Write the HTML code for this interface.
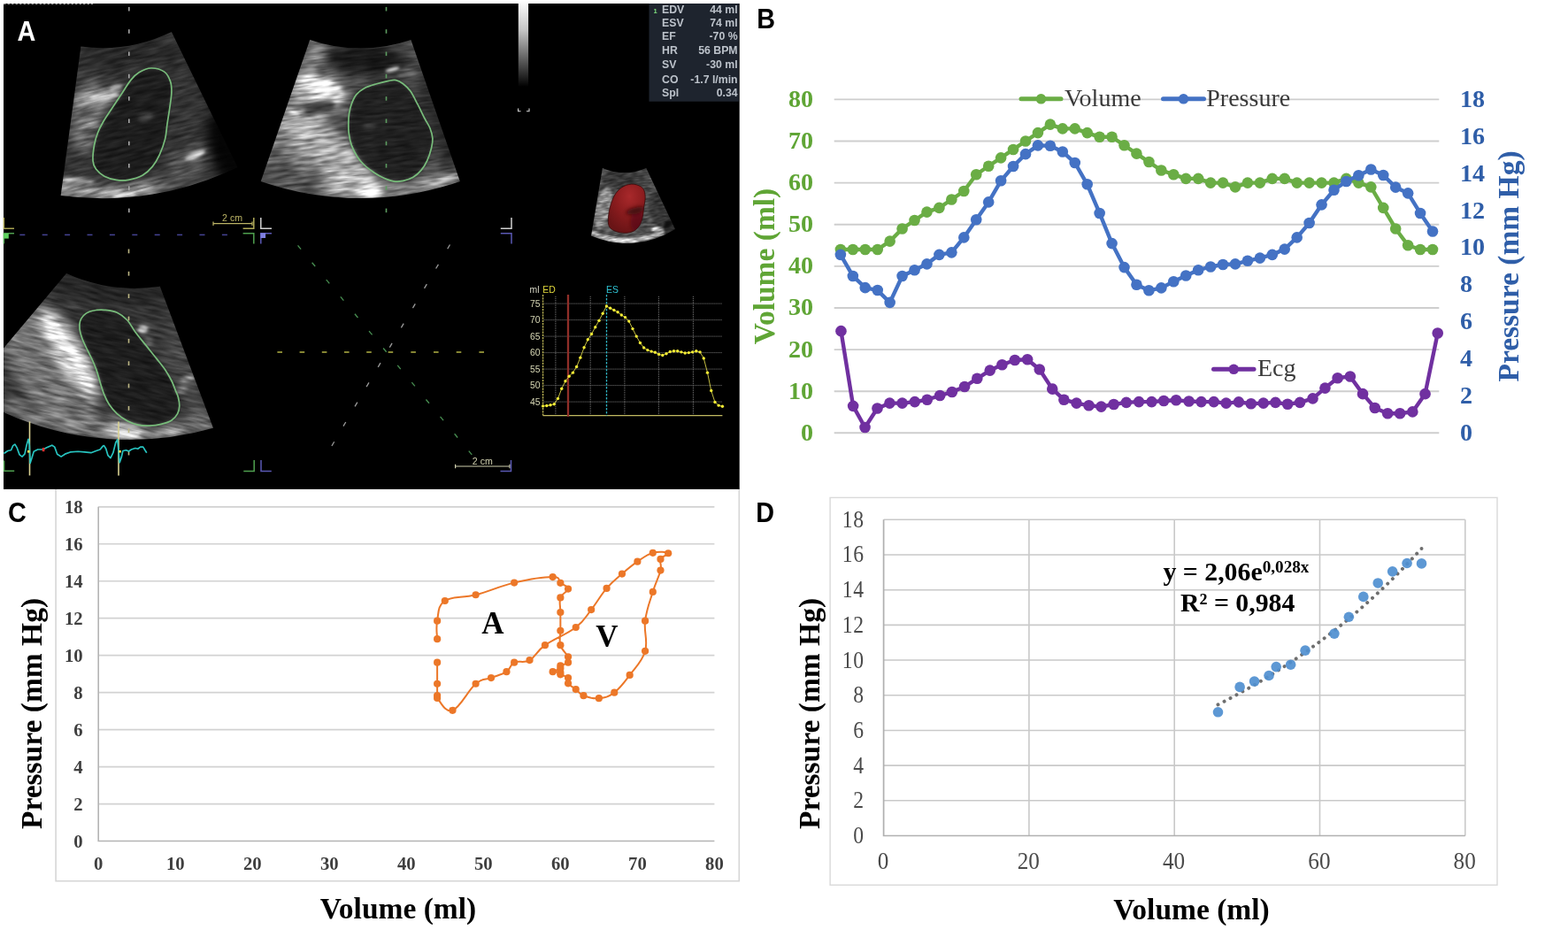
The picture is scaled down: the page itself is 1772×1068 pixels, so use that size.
<!DOCTYPE html>
<html lang="en">
<head>
<meta charset="utf-8">
<title>Figure: pressure-volume analysis</title>
<style>
html,body{margin:0;padding:0;background:#fff;}
body{width:1772px;height:1068px;overflow:hidden;position:relative;}
svg{position:absolute;left:0;top:0;display:block;}
text{font-family:"Liberation Serif","DejaVu Serif",serif;}
.pl{font-family:"Liberation Sans","DejaVu Sans",sans-serif;font-weight:bold;font-size:28.8px;}
.bt{font-weight:bold;font-size:28.1px;}
.at{font-weight:bold;font-size:33.5px;}
.atk{font-weight:bold;font-size:33.5px;fill:#000;}
.lg{font-size:28px;fill:#3a3a3a;}
.ct{font-weight:bold;font-size:20.7px;fill:#3f3f3f;}
.dt{fill:#4a4a4a;}
.av{font-weight:bold;font-size:35px;fill:#000;}
.eq{font-weight:bold;font-size:29.8px;fill:#000;}
.us{font-family:"Liberation Sans","DejaVu Sans",sans-serif;}
</style>
</head>
<body>
<svg width="1772" height="1068" viewBox="0 0 1772 1068">
<rect width="1772" height="1068" fill="#fff"/>
<g id="panelC">
<rect x="63.1" y="552" width="772.2" height="443.7" fill="#fff" stroke="#d6d6d6" stroke-width="1.6"/>
<line x1="111.2" x2="807.4" y1="908.53" y2="908.53" stroke="#d2d2d2" stroke-width="1.7"/>
<line x1="111.2" x2="807.4" y1="866.57" y2="866.57" stroke="#d2d2d2" stroke-width="1.7"/>
<line x1="111.2" x2="807.4" y1="824.6" y2="824.6" stroke="#d2d2d2" stroke-width="1.7"/>
<line x1="111.2" x2="807.4" y1="782.63" y2="782.63" stroke="#d2d2d2" stroke-width="1.7"/>
<line x1="111.2" x2="807.4" y1="740.67" y2="740.67" stroke="#d2d2d2" stroke-width="1.7"/>
<line x1="111.2" x2="807.4" y1="698.7" y2="698.7" stroke="#d2d2d2" stroke-width="1.7"/>
<line x1="111.2" x2="807.4" y1="656.73" y2="656.73" stroke="#d2d2d2" stroke-width="1.7"/>
<line x1="111.2" x2="807.4" y1="614.77" y2="614.77" stroke="#d2d2d2" stroke-width="1.7"/>
<line x1="111.2" x2="807.4" y1="572.8" y2="572.8" stroke="#d2d2d2" stroke-width="1.7"/>
<path d="M111.2,572.8 V950.5 H807.4" fill="none" stroke="#b4b4b4" stroke-width="1.6"/>
<text x="93.7" y="957.8" text-anchor="end" class="ct">0</text>
<text x="93.7" y="915.83" text-anchor="end" class="ct">2</text>
<text x="93.7" y="873.87" text-anchor="end" class="ct">4</text>
<text x="93.7" y="831.9" text-anchor="end" class="ct">6</text>
<text x="93.7" y="789.93" text-anchor="end" class="ct">8</text>
<text x="93.7" y="747.97" text-anchor="end" class="ct">10</text>
<text x="93.7" y="706" text-anchor="end" class="ct">12</text>
<text x="93.7" y="664.03" text-anchor="end" class="ct">14</text>
<text x="93.7" y="622.07" text-anchor="end" class="ct">16</text>
<text x="93.7" y="580.1" text-anchor="end" class="ct">18</text>
<text x="111.2" y="982.6" text-anchor="middle" class="ct">0</text>
<text x="198.22" y="982.6" text-anchor="middle" class="ct">10</text>
<text x="285.25" y="982.6" text-anchor="middle" class="ct">20</text>
<text x="372.27" y="982.6" text-anchor="middle" class="ct">30</text>
<text x="459.3" y="982.6" text-anchor="middle" class="ct">40</text>
<text x="546.32" y="982.6" text-anchor="middle" class="ct">50</text>
<text x="633.35" y="982.6" text-anchor="middle" class="ct">60</text>
<text x="720.38" y="982.6" text-anchor="middle" class="ct">70</text>
<text x="807.4" y="982.6" text-anchor="middle" class="ct">80</text>
<text transform="translate(47,806.5) rotate(-90)" text-anchor="middle" class="atk">Pressure (mm Hg)</text>
<text x="450" y="1037.5" text-anchor="middle" class="atk">Volume (ml)</text>
<path d="M494.11,748.64C494.11,753.47 494.11,765.3 494.11,772.77C494.11,780.24 494.11,782.76 494.11,785.99C494.11,789.22 490.63,785.57 494.11,788.93C497.59,792.29 502.81,806.01 511.51,802.78C520.22,799.55 528.92,780.12 537.62,772.77C546.32,765.43 548.07,768.78 555.03,766.06C561.99,763.33 567.21,762.62 572.43,759.13C577.65,755.65 575.91,751.24 581.13,748.64C586.36,746.04 591.58,750.03 598.54,746.12C605.5,742.22 605.5,736.55 615.95,729.13C626.39,721.7 640.31,717 650.75,708.98C661.2,700.97 661.2,697.86 668.16,689.05C675.12,680.23 678.6,673.02 685.57,664.92C692.53,656.82 696.01,654.59 702.97,648.55C709.93,642.51 713.41,639.44 720.38,634.7C727.34,629.96 730.82,626.73 737.78,624.84C744.74,622.95 753.44,623.83 755.18,625.26C756.93,626.69 748.22,628.11 746.48,631.97C744.74,635.83 748.22,637.18 746.48,644.56C744.74,651.95 741.26,657.49 737.78,668.9C734.3,680.32 730.82,688.25 729.08,701.64C727.34,715.03 732.56,723.59 729.08,735.84C725.6,748.09 718.63,753.55 711.67,762.91C704.71,772.27 701.23,777.39 694.27,782.63C687.31,787.88 683.82,788.42 676.86,789.14C669.9,789.85 664.68,788.21 659.46,786.2C654.24,784.19 654.24,781.84 650.75,779.07C647.27,776.3 643.79,774.95 642.05,772.35C640.31,769.75 643.79,768.07 642.05,766.06C640.31,764.04 635.09,763.54 633.35,762.28C631.61,761.02 635.09,760.39 633.35,759.76C631.61,759.13 624.65,759.97 624.65,759.13C624.65,758.29 631.61,756.91 633.35,755.56C635.09,754.22 631.61,753.8 633.35,752.42C635.09,751.03 640.31,750.65 642.05,748.64C643.79,746.63 643.79,746.25 642.05,742.35C640.31,738.44 635.09,735.04 633.35,729.13C631.61,723.21 633.35,720.19 633.35,712.76C633.35,705.33 633.35,699.46 633.35,691.99C633.35,684.52 631.61,680.7 633.35,675.41C635.09,670.12 642.05,668.86 642.05,665.55C642.05,662.23 636.83,661.52 633.35,658.83C629.87,656.15 635.09,652.16 624.65,652.12C614.2,652.08 598.54,654.59 581.13,658.62C563.73,662.65 553.29,668.19 537.62,672.26C521.96,676.33 511.51,673.1 502.81,678.98C494.11,684.85 495.85,692.99 494.11,701.64C492.37,710.28 494.11,718.09 494.11,722.2" fill="none" stroke="#ec7728" stroke-width="2" stroke-linejoin="round" stroke-linecap="round"/>
<g fill="#ec7728"><circle cx="494.11" cy="748.64" r="4.1"/><circle cx="494.11" cy="772.77" r="4.1"/><circle cx="494.11" cy="785.99" r="4.1"/><circle cx="494.11" cy="788.93" r="4.1"/><circle cx="511.51" cy="802.78" r="4.1"/><circle cx="537.62" cy="772.77" r="4.1"/><circle cx="555.03" cy="766.06" r="4.1"/><circle cx="572.43" cy="759.13" r="4.1"/><circle cx="581.13" cy="748.64" r="4.1"/><circle cx="598.54" cy="746.12" r="4.1"/><circle cx="615.95" cy="729.13" r="4.1"/><circle cx="650.75" cy="708.98" r="4.1"/><circle cx="668.16" cy="689.05" r="4.1"/><circle cx="685.57" cy="664.92" r="4.1"/><circle cx="702.97" cy="648.55" r="4.1"/><circle cx="720.38" cy="634.7" r="4.1"/><circle cx="737.78" cy="624.84" r="4.1"/><circle cx="755.18" cy="625.26" r="4.1"/><circle cx="746.48" cy="631.97" r="4.1"/><circle cx="746.48" cy="644.56" r="4.1"/><circle cx="737.78" cy="668.9" r="4.1"/><circle cx="729.08" cy="701.64" r="4.1"/><circle cx="729.08" cy="735.84" r="4.1"/><circle cx="711.67" cy="762.91" r="4.1"/><circle cx="694.27" cy="782.63" r="4.1"/><circle cx="676.86" cy="789.14" r="4.1"/><circle cx="659.46" cy="786.2" r="4.1"/><circle cx="650.75" cy="779.07" r="4.1"/><circle cx="642.05" cy="772.35" r="4.1"/><circle cx="642.05" cy="766.06" r="4.1"/><circle cx="633.35" cy="762.28" r="4.1"/><circle cx="633.35" cy="759.76" r="4.1"/><circle cx="624.65" cy="759.13" r="4.1"/><circle cx="633.35" cy="755.56" r="4.1"/><circle cx="633.35" cy="752.42" r="4.1"/><circle cx="642.05" cy="748.64" r="4.1"/><circle cx="642.05" cy="742.35" r="4.1"/><circle cx="633.35" cy="729.13" r="4.1"/><circle cx="633.35" cy="712.76" r="4.1"/><circle cx="633.35" cy="691.99" r="4.1"/><circle cx="633.35" cy="675.41" r="4.1"/><circle cx="642.05" cy="665.55" r="4.1"/><circle cx="633.35" cy="658.83" r="4.1"/><circle cx="624.65" cy="652.12" r="4.1"/><circle cx="581.13" cy="658.62" r="4.1"/><circle cx="537.62" cy="672.26" r="4.1"/><circle cx="502.81" cy="678.98" r="4.1"/><circle cx="494.11" cy="701.64" r="4.1"/><circle cx="494.11" cy="722.2" r="4.1"/></g>
<text x="557" y="716" text-anchor="middle" class="av">A</text>
<text x="686" y="731" text-anchor="middle" class="av">V</text>
</g>
<g id="panelA">
<defs>
<clipPath id="cs1"><path d="M91.42,52.59 A179,179 0 0 0 193.87,36.08 L268.39,188.88 A349,349 0 0 1 68.64,221.05 Z"/></clipPath>
<clipPath id="cs2"><path d="M350.2,44.89 A174.5,174.5 0 0 0 464.4,44.89 L519.86,205.06 A344,344 0 0 1 294.74,205.06 Z"/></clipPath>
<clipPath id="cs3"><path d="M75,309.1 A190,190 0 0 0 180.8,323.8 L241,483.8 A345,345 0 0 1 4,466 L4,393.5 Z"/></clipPath>
<clipPath id="cs4"><path d="M680.9,190 A62,62 0 0 0 730.3,190 L763,259 A102,102 0 0 1 668,266.6 Z"/></clipPath>
<filter id="spk1" x="-5%" y="-5%" width="110%" height="110%" color-interpolation-filters="sRGB">
<feGaussianBlur in="SourceGraphic" stdDeviation="2.2" result="b"/>
<feTurbulence type="fractalNoise" baseFrequency="0.045 0.28" numOctaves="2" seed="3" result="n"/>
<feColorMatrix in="n" type="matrix" values="1 0 0 0 0  1 0 0 0 0  1 0 0 0 0  0 0 0 0 1" result="g"/>
<feComposite in="b" in2="g" operator="arithmetic" k1="1.3" k2="0.35" k3="0" k4="0"/>
</filter>
<filter id="spk2" x="-5%" y="-5%" width="110%" height="110%" color-interpolation-filters="sRGB">
<feGaussianBlur in="SourceGraphic" stdDeviation="2.2" result="b"/>
<feTurbulence type="fractalNoise" baseFrequency="0.045 0.28" numOctaves="2" seed="11" result="n"/>
<feColorMatrix in="n" type="matrix" values="1 0 0 0 0  1 0 0 0 0  1 0 0 0 0  0 0 0 0 1" result="g"/>
<feComposite in="b" in2="g" operator="arithmetic" k1="1.3" k2="0.35" k3="0" k4="0"/>
</filter>
<filter id="spk3" x="-5%" y="-5%" width="110%" height="110%" color-interpolation-filters="sRGB">
<feGaussianBlur in="SourceGraphic" stdDeviation="2.2" result="b"/>
<feTurbulence type="fractalNoise" baseFrequency="0.045 0.28" numOctaves="2" seed="7" result="n"/>
<feColorMatrix in="n" type="matrix" values="1 0 0 0 0  1 0 0 0 0  1 0 0 0 0  0 0 0 0 1" result="g"/>
<feComposite in="b" in2="g" operator="arithmetic" k1="1.3" k2="0.35" k3="0" k4="0"/>
</filter>
<filter id="spk4" x="-5%" y="-5%" width="110%" height="110%" color-interpolation-filters="sRGB">
<feGaussianBlur in="SourceGraphic" stdDeviation="1.2" result="b"/>
<feTurbulence type="fractalNoise" baseFrequency="0.1 0.45" numOctaves="2" seed="5" result="n"/>
<feColorMatrix in="n" type="matrix" values="1 0 0 0 0  1 0 0 0 0  1 0 0 0 0  0 0 0 0 1" result="g"/>
<feComposite in="b" in2="g" operator="arithmetic" k1="1.4" k2="0.3" k3="0" k4="0"/>
</filter>
<filter id="soft" x="-30%" y="-30%" width="160%" height="160%" color-interpolation-filters="sRGB"><feGaussianBlur stdDeviation="6"/></filter>
<filter id="bl1" x="-20%" y="-20%" width="140%" height="140%"><feGaussianBlur stdDeviation="1"/></filter>
<filter id="bl2" x="-50%" y="-50%" width="200%" height="200%"><feGaussianBlur stdDeviation="2.2"/></filter>
<linearGradient id="gbar" x1="0" y1="0" x2="0" y2="1"><stop offset="0" stop-color="#fff"/><stop offset="0.35" stop-color="#c4c4c4"/><stop offset="0.7" stop-color="#5a5a5a"/><stop offset="1" stop-color="#000"/></linearGradient>
<radialGradient id="gred" cx="0.58" cy="0.25" r="0.75"><stop offset="0" stop-color="#a8292b"/><stop offset="0.5" stop-color="#8b1c1e"/><stop offset="1" stop-color="#6a1416"/></radialGradient>
</defs>
<rect x="4" y="4" width="831.7" height="548.9" fill="#000"/>
<line x1="4" x2="105" y1="4.6" y2="4.6" stroke="#fff" stroke-opacity="0.55" stroke-width="1.2" stroke-dasharray="2.5 2"/>
<g clip-path="url(#cs1)">
<g transform="rotate(-14 150 130)">
<g filter="url(#spk1)">
<g transform="rotate(14 150 130)">
<rect x="20" y="-10" width="300" height="280" fill="#343434"/>
<g filter="url(#soft)">
<ellipse cx="150" cy="62" rx="60" ry="14" transform="rotate(-6 150 62)" fill="#222" fill-opacity="0.7"/>
<ellipse cx="98" cy="132" rx="16" ry="42" transform="rotate(8 98 132)" fill="#868686" fill-opacity="0.75"/>
<ellipse cx="110" cy="110" rx="26" ry="9" transform="rotate(-10 110 110)" fill="#c0c0c0" fill-opacity="0.6"/>
<ellipse cx="213" cy="178" rx="26" ry="9" transform="rotate(-24 213 178)" fill="#808080" fill-opacity="0.6"/>
<path d="M61.74,213.98 A343,343 0 0 0 180.85,211.9" fill="none" stroke="#c4c4c4" stroke-opacity="0.9" stroke-width="12"/>
<path d="M174.44,210.03 A340,340 0 0 0 226.09,196.68" fill="none" stroke="#686868" stroke-opacity="0.7" stroke-width="14"/>
<ellipse cx="262" cy="175" rx="22" ry="50" transform="rotate(-26 262 175)" fill="#000" fill-opacity="0.9"/>
<ellipse cx="236" cy="100" rx="8" ry="50" transform="rotate(-26 236 100)" fill="#000" fill-opacity="0.4"/>
</g>
<path d="M170.8,77C175.55,76.88 182.08,78.62 185.7,81.1C189.32,83.58 191.13,88.05 192.5,91.9C193.87,95.75 194.02,99.22 193.9,104.2C193.78,109.18 192.62,115.83 191.8,121.8C190.98,127.77 189.87,134.12 189,140C188.13,145.88 188.05,151.3 186.6,157.1C185.15,162.9 182.7,169.58 180.3,174.8C177.9,180.02 175.37,184.55 172.2,188.4C169.03,192.25 165.83,195.42 161.3,197.9C156.77,200.38 149.98,202.4 145,203.3C140.02,204.2 135.92,203.98 131.4,203.3C126.88,202.62 121.73,201.23 117.9,199.2C114.07,197.17 110.55,194.03 108.4,191.1C106.25,188.17 105.32,186.12 105,181.6C104.68,177.08 105.58,169.27 106.5,164C107.42,158.73 108.75,154.5 110.5,150C112.25,145.5 114.42,141.47 117,137C119.58,132.53 122.68,128.22 126,123.2C129.32,118.18 133.28,112.33 136.9,106.9C140.52,101.47 144.32,94.78 147.7,90.6C151.08,86.42 153.35,84.07 157.2,81.8C161.05,79.53 166.05,77.12 170.8,77Z" fill="#1a1a1a" fill-opacity="0.85"/>
<ellipse cx="164" cy="132" rx="9" ry="5" transform="rotate(-20 164 132)" fill="#555" fill-opacity="0.5"/>
<ellipse cx="118" cy="109" rx="18" ry="3" transform="rotate(-6 118 109)" fill="#fff" fill-opacity="0.6"/>
<ellipse cx="131" cy="99.5" rx="8" ry="2.8" transform="rotate(-14 131 99.5)" fill="#fff" fill-opacity="0.6"/>
<ellipse cx="91" cy="113" rx="8" ry="4" transform="rotate(0 91 113)" fill="#fff" fill-opacity="0.55"/>
<ellipse cx="106" cy="140" rx="7" ry="2.5" transform="rotate(-10 106 140)" fill="#ddd" fill-opacity="0.5"/>
<ellipse cx="88" cy="204" rx="19" ry="2.6" transform="rotate(4 88 204)" fill="#fff" fill-opacity="0.6"/>
<ellipse cx="140" cy="220" rx="14" ry="3.2" transform="rotate(-3 140 220)" fill="#fff" fill-opacity="0.8"/>
<ellipse cx="164" cy="212" rx="9" ry="2.6" transform="rotate(-8 164 212)" fill="#eee" fill-opacity="0.5"/>
<ellipse cx="220.5" cy="175.5" rx="12.5" ry="2.6" transform="rotate(-22 220.5 175.5)" fill="#fff" fill-opacity="0.6"/>
</g></g></g>
<g filter="url(#bl1)">
<ellipse cx="118" cy="109" rx="17" ry="1.3" transform="rotate(-6 118 109)" fill="#fff" fill-opacity="0.55"/>
<ellipse cx="131" cy="99.5" rx="7" ry="1.2" transform="rotate(-14 131 99.5)" fill="#fff" fill-opacity="0.35"/>
<ellipse cx="220.5" cy="175.5" rx="12" ry="1.3" transform="rotate(-22 220.5 175.5)" fill="#fff" fill-opacity="0.6"/>
<ellipse cx="140" cy="220.5" rx="13" ry="1.5" transform="rotate(-3 140 220.5)" fill="#fff" fill-opacity="0.5"/>
<ellipse cx="88" cy="204" rx="17" ry="1.3" transform="rotate(4 88 204)" fill="#fff" fill-opacity="0.4"/>
</g>
</g>
<g clip-path="url(#cs2)">
<g transform="rotate(-6 407 130)">
<g filter="url(#spk2)">
<g transform="rotate(6 407 130)">
<rect x="250" y="0" width="315" height="270" fill="#484848"/>
<g filter="url(#soft)">
<ellipse cx="330" cy="150" rx="34" ry="70" transform="rotate(19 330 150)" fill="#7c7c7c" fill-opacity="0.85"/>
<ellipse cx="372" cy="172" rx="66" ry="24" transform="rotate(40 372 172)" fill="#b4b4b4" fill-opacity="0.85"/>
<ellipse cx="355" cy="66" rx="13" ry="22" transform="rotate(20 355 66)" fill="#909090" fill-opacity="0.7"/>
<ellipse cx="415" cy="68" rx="48" ry="17" transform="rotate(4 415 68)" fill="#141414" fill-opacity="0.92"/>
<ellipse cx="474" cy="72" rx="9" ry="26" transform="rotate(-18 474 72)" fill="#585858" fill-opacity="0.55"/>
<ellipse cx="362" cy="103" rx="31" ry="19" transform="rotate(20 362 103)" fill="#dcdcdc" fill-opacity="0.85"/>
<path d="M360.4,213.72 A337,337 0 0 0 522.56,196.68" fill="none" stroke="#b0b0b0" stroke-opacity="0.75" stroke-width="14"/>
<ellipse cx="400" cy="208" rx="34" ry="12" transform="rotate(8 400 208)" fill="#d0d0d0" fill-opacity="0.75"/>
<ellipse cx="312" cy="196" rx="22" ry="16" transform="rotate(-20 312 196)" fill="#3c3c3c" fill-opacity="0.7"/>
<ellipse cx="498" cy="135" rx="16" ry="60" transform="rotate(-18 498 135)" fill="#181818" fill-opacity="0.65"/>
</g>
<path d="M439.3,91.3C442.93,90.62 444.78,90.03 447.5,90.6C450.22,91.17 452.9,92.67 455.6,94.7C458.3,96.73 460.98,98.97 463.7,102.8C466.42,106.63 469.18,112.5 471.9,117.7C474.62,122.9 477.65,129.45 480,134C482.35,138.55 484.52,141.25 486,145C487.48,148.75 488.65,152.75 488.9,156.5C489.15,160.25 488.53,163.32 487.5,167.5C486.47,171.68 484.62,177.45 482.7,181.6C480.78,185.75 478.7,189.23 476,192.4C473.3,195.57 469.9,198.6 466.5,200.6C463.1,202.6 459.23,203.68 455.6,204.4C451.97,205.12 448.32,205.42 444.7,204.9C441.08,204.38 437.52,202.92 433.9,201.3C430.28,199.68 426.62,197.58 423,195.2C419.38,192.82 415.37,189.95 412.2,187C409.03,184.05 406.5,181.35 404,177.5C401.5,173.65 398.83,168.42 397.2,163.9C395.57,159.38 394.77,154.55 394.2,150.4C393.63,146.25 393.75,142.63 393.8,139C393.85,135.37 393.93,132.15 394.5,128.6C395.07,125.05 395.83,121.32 397.2,117.7C398.57,114.08 400.2,109.95 402.7,106.9C405.2,103.85 408.37,101.43 412.2,99.4C416.03,97.37 421.18,96.05 425.7,94.7C430.22,93.35 435.67,91.98 439.3,91.3Z" fill="#1a1a1a" fill-opacity="0.88"/>
<ellipse cx="418" cy="143" rx="8" ry="4" transform="rotate(-10 418 143)" fill="#555" fill-opacity="0.5"/>
<ellipse cx="368" cy="97" rx="22" ry="8" transform="rotate(24 368 97)" fill="#fff" fill-opacity="0.7"/>
<ellipse cx="350" cy="92" rx="9" ry="6" transform="rotate(20 350 92)" fill="#fff" fill-opacity="0.45"/>
<ellipse cx="361" cy="122" rx="18" ry="8" transform="rotate(-14 361 122)" fill="#343434" fill-opacity="0.92"/>
<ellipse cx="358" cy="133" rx="16" ry="3" transform="rotate(-8 358 133)" fill="#e8e8e8" fill-opacity="0.6"/>
<ellipse cx="333" cy="128" rx="6" ry="2" transform="rotate(18 333 128)" fill="#fff" fill-opacity="0.8"/>
<ellipse cx="443.5" cy="78.5" rx="8" ry="2.2" transform="rotate(-14 443.5 78.5)" fill="#fff" fill-opacity="0.6"/>
<ellipse cx="460" cy="82" rx="12" ry="4" transform="rotate(-14 460 82)" fill="#999" fill-opacity="0.5"/>
<ellipse cx="418" cy="217.5" rx="16" ry="4.5" transform="rotate(0 418 217.5)" fill="#fff" fill-opacity="0.8"/>
<ellipse cx="495" cy="205" rx="20" ry="3.5" transform="rotate(-16 495 205)" fill="#ccc" fill-opacity="0.7"/>
<ellipse cx="312" cy="171" rx="6" ry="4" transform="rotate(0 312 171)" fill="#3a3a3a" fill-opacity="0.6"/>
</g></g></g>
<g filter="url(#bl1)">
<ellipse cx="443.5" cy="78.5" rx="8" ry="1.2" transform="rotate(-14 443.5 78.5)" fill="#fff" fill-opacity="0.6"/>
<ellipse cx="333" cy="128" rx="6" ry="1.1" transform="rotate(18 333 128)" fill="#fff" fill-opacity="0.5"/>
<ellipse cx="366" cy="98" rx="16" ry="5" transform="rotate(24 366 98)" fill="#fff" fill-opacity="0.3"/>
</g>
</g>
<g clip-path="url(#cs3)">
<g transform="rotate(12 130 400)">
<g filter="url(#spk3)">
<g transform="rotate(-12 130 400)">
<rect x="-40" y="260" width="330" height="285" fill="#383838"/>
<g filter="url(#soft)">
<ellipse cx="125" cy="328" rx="70" ry="18" transform="rotate(8 125 328)" fill="#222" fill-opacity="0.8"/>
<ellipse cx="56" cy="418" rx="38" ry="82" transform="rotate(-33 56 418)" fill="#7c7c7c" fill-opacity="0.85"/>
<ellipse cx="78" cy="398" rx="15" ry="58" transform="rotate(-32 78 398)" fill="#f0f0f0" fill-opacity="0.9"/>
<ellipse cx="212" cy="425" rx="12" ry="55" transform="rotate(-20 212 425)" fill="#565656" fill-opacity="0.6"/>
<path d="M4,458 A345,345 0 0 0 241,476" fill="none" stroke="#8a8a8a" stroke-opacity="0.7" stroke-width="18"/>
<ellipse cx="140" cy="485" rx="24" ry="9" transform="rotate(4 140 485)" fill="#e0e0e0" fill-opacity="0.8"/>
<ellipse cx="232" cy="400" rx="12" ry="70" transform="rotate(-20 232 400)" fill="#000" fill-opacity="0.5"/>
</g>
<path d="M117.6,350.3C121.52,350.75 127.9,351.25 132.3,353.2C136.7,355.15 140.57,358.33 144,362C147.43,365.67 149.47,370.55 152.9,375.2C156.33,379.85 160.68,385 164.6,389.9C168.52,394.8 172.72,399.93 176.4,404.6C180.08,409.27 183.77,413.58 186.7,417.9C189.63,422.22 192.05,426.58 194,430.5C195.95,434.42 197.17,438.32 198.4,441.4C199.63,444.48 200.67,446.1 201.4,449C202.13,451.9 202.93,455.7 202.8,458.8C202.67,461.9 202.07,464.9 200.6,467.6C199.13,470.3 197.07,473.03 194,475C190.93,476.97 186.37,478.38 182.2,479.4C178.03,480.42 173.4,480.98 169,481.1C164.6,481.22 159.97,481 155.8,480.1C151.63,479.2 147.92,477.78 144,475.7C140.08,473.62 135.72,470.67 132.3,467.6C128.88,464.53 125.95,460.97 123.5,457.3C121.05,453.63 119.32,449.77 117.6,445.6C115.88,441.43 114.67,436.97 113.2,432.3C111.73,427.63 110.42,422.15 108.8,417.6C107.18,413.05 105.3,408.93 103.5,405C101.7,401.07 99.75,397.67 98,394C96.25,390.33 94.33,386.67 93,383C91.67,379.33 90.42,375.33 90,372C89.58,368.67 89.75,365.58 90.5,363C91.25,360.42 92.75,358.28 94.5,356.5C96.25,354.72 98.62,353.3 101,352.3C103.38,351.3 106.03,350.83 108.8,350.5C111.57,350.17 113.68,349.85 117.6,350.3Z" fill="#1a1a1a" fill-opacity="0.88"/>
<ellipse cx="80" cy="396" rx="5" ry="28" transform="rotate(-32 80 396)" fill="#fff" fill-opacity="0.55"/>
<ellipse cx="94" cy="424" rx="5" ry="20" transform="rotate(-34 94 424)" fill="#fff" fill-opacity="0.5"/>
<ellipse cx="60" cy="368" rx="7" ry="16" transform="rotate(-42 60 368)" fill="#fff" fill-opacity="0.45"/>
<ellipse cx="161.5" cy="372" rx="6" ry="4.5" transform="rotate(0 161.5 372)" fill="#ccc" fill-opacity="0.8"/>
<ellipse cx="168" cy="386" rx="5" ry="3.5" transform="rotate(0 168 386)" fill="#aaa" fill-opacity="0.6"/>
<ellipse cx="212" cy="428" rx="8" ry="2.6" transform="rotate(-10 212 428)" fill="#ddd" fill-opacity="0.8"/>
<ellipse cx="205" cy="441" rx="7" ry="2.6" transform="rotate(-10 205 441)" fill="#bbb" fill-opacity="0.6"/>
<ellipse cx="146" cy="490" rx="14" ry="5" transform="rotate(2 146 490)" fill="#fff" fill-opacity="0.7"/>
<ellipse cx="192" cy="488" rx="16" ry="4" transform="rotate(-8 192 488)" fill="#bbb" fill-opacity="0.6"/>
</g></g></g>
<g filter="url(#bl1)">
<ellipse cx="80" cy="397" rx="4" ry="30" transform="rotate(-32 80 397)" fill="#fff" fill-opacity="0.3"/>
<ellipse cx="146" cy="490" rx="12" ry="3.5" transform="rotate(2 146 490)" fill="#fff" fill-opacity="0.45"/>
<ellipse cx="161.5" cy="372" rx="5" ry="3.5" transform="rotate(0 161.5 372)" fill="#fff" fill-opacity="0.35"/>
</g>
</g>
<g clip-path="url(#cs4)">
<g transform="rotate(-8 715 233)">
<g filter="url(#spk4)">
<g transform="rotate(8 715 233)">
<rect x="620" y="145" width="190" height="175" fill="#505050"/>
<g filter="url(#soft)">
</g>
<ellipse cx="705" cy="203" rx="24" ry="12" transform="rotate(0 705 203)" fill="#333" fill-opacity="0.8"/>
<ellipse cx="682" cy="235" rx="9" ry="24" transform="rotate(12 682 235)" fill="#a0a0a0" fill-opacity="0.75"/>
<path d="M668,263 A102,102 0 0 0 763,255.5" fill="none" stroke="#c8c8c8" stroke-opacity="0.8" stroke-width="5"/>
<ellipse cx="703" cy="273.5" rx="20" ry="2.2" transform="rotate(4 703 273.5)" fill="#fff" fill-opacity="0.8"/>
<ellipse cx="742.5" cy="258.8" rx="7" ry="1.8" transform="rotate(-12 742.5 258.8)" fill="#fff" fill-opacity="0.95"/>
<ellipse cx="746" cy="238" rx="12" ry="22" transform="rotate(-20 746 238)" fill="#2c2c2c" fill-opacity="0.7"/>
<ellipse cx="760" cy="262" rx="9" ry="14" transform="rotate(-25 760 262)" fill="#000" fill-opacity="0.7"/>
</g></g></g>
</g>
<path d="M170.8,77C175.55,76.88 182.08,78.62 185.7,81.1C189.32,83.58 191.13,88.05 192.5,91.9C193.87,95.75 194.02,99.22 193.9,104.2C193.78,109.18 192.62,115.83 191.8,121.8C190.98,127.77 189.87,134.12 189,140C188.13,145.88 188.05,151.3 186.6,157.1C185.15,162.9 182.7,169.58 180.3,174.8C177.9,180.02 175.37,184.55 172.2,188.4C169.03,192.25 165.83,195.42 161.3,197.9C156.77,200.38 149.98,202.4 145,203.3C140.02,204.2 135.92,203.98 131.4,203.3C126.88,202.62 121.73,201.23 117.9,199.2C114.07,197.17 110.55,194.03 108.4,191.1C106.25,188.17 105.32,186.12 105,181.6C104.68,177.08 105.58,169.27 106.5,164C107.42,158.73 108.75,154.5 110.5,150C112.25,145.5 114.42,141.47 117,137C119.58,132.53 122.68,128.22 126,123.2C129.32,118.18 133.28,112.33 136.9,106.9C140.52,101.47 144.32,94.78 147.7,90.6C151.08,86.42 153.35,84.07 157.2,81.8C161.05,79.53 166.05,77.12 170.8,77Z" fill="none" stroke="#78bd7b" stroke-width="1.7"/>
<path d="M439.3,91.3C442.93,90.62 444.78,90.03 447.5,90.6C450.22,91.17 452.9,92.67 455.6,94.7C458.3,96.73 460.98,98.97 463.7,102.8C466.42,106.63 469.18,112.5 471.9,117.7C474.62,122.9 477.65,129.45 480,134C482.35,138.55 484.52,141.25 486,145C487.48,148.75 488.65,152.75 488.9,156.5C489.15,160.25 488.53,163.32 487.5,167.5C486.47,171.68 484.62,177.45 482.7,181.6C480.78,185.75 478.7,189.23 476,192.4C473.3,195.57 469.9,198.6 466.5,200.6C463.1,202.6 459.23,203.68 455.6,204.4C451.97,205.12 448.32,205.42 444.7,204.9C441.08,204.38 437.52,202.92 433.9,201.3C430.28,199.68 426.62,197.58 423,195.2C419.38,192.82 415.37,189.95 412.2,187C409.03,184.05 406.5,181.35 404,177.5C401.5,173.65 398.83,168.42 397.2,163.9C395.57,159.38 394.77,154.55 394.2,150.4C393.63,146.25 393.75,142.63 393.8,139C393.85,135.37 393.93,132.15 394.5,128.6C395.07,125.05 395.83,121.32 397.2,117.7C398.57,114.08 400.2,109.95 402.7,106.9C405.2,103.85 408.37,101.43 412.2,99.4C416.03,97.37 421.18,96.05 425.7,94.7C430.22,93.35 435.67,91.98 439.3,91.3Z" fill="none" stroke="#78bd7b" stroke-width="1.7"/>
<path d="M117.6,350.3C121.52,350.75 127.9,351.25 132.3,353.2C136.7,355.15 140.57,358.33 144,362C147.43,365.67 149.47,370.55 152.9,375.2C156.33,379.85 160.68,385 164.6,389.9C168.52,394.8 172.72,399.93 176.4,404.6C180.08,409.27 183.77,413.58 186.7,417.9C189.63,422.22 192.05,426.58 194,430.5C195.95,434.42 197.17,438.32 198.4,441.4C199.63,444.48 200.67,446.1 201.4,449C202.13,451.9 202.93,455.7 202.8,458.8C202.67,461.9 202.07,464.9 200.6,467.6C199.13,470.3 197.07,473.03 194,475C190.93,476.97 186.37,478.38 182.2,479.4C178.03,480.42 173.4,480.98 169,481.1C164.6,481.22 159.97,481 155.8,480.1C151.63,479.2 147.92,477.78 144,475.7C140.08,473.62 135.72,470.67 132.3,467.6C128.88,464.53 125.95,460.97 123.5,457.3C121.05,453.63 119.32,449.77 117.6,445.6C115.88,441.43 114.67,436.97 113.2,432.3C111.73,427.63 110.42,422.15 108.8,417.6C107.18,413.05 105.3,408.93 103.5,405C101.7,401.07 99.75,397.67 98,394C96.25,390.33 94.33,386.67 93,383C91.67,379.33 90.42,375.33 90,372C89.58,368.67 89.75,365.58 90.5,363C91.25,360.42 92.75,358.28 94.5,356.5C96.25,354.72 98.62,353.3 101,352.3C103.38,351.3 106.03,350.83 108.8,350.5C111.57,350.17 113.68,349.85 117.6,350.3Z" fill="none" stroke="#78bd7b" stroke-width="1.7"/>
<path d="M716.3,208.2C719.85,208.58 724.25,210.27 726.4,212.7C728.55,215.13 729.02,219.05 729.2,222.8C729.38,226.55 727.97,231.63 727.5,235.2C727.03,238.77 727.15,241.02 726.4,244.2C725.65,247.38 724.68,251.5 723,254.3C721.32,257.1 719.1,259.5 716.3,261C713.5,262.5 709.77,263.3 706.2,263.3C702.63,263.3 697.9,262.32 694.9,261C691.9,259.68 689.42,258.2 688.2,255.4C686.98,252.6 687.23,248.32 687.6,244.2C687.97,240.08 688.98,235.02 690.4,230.7C691.82,226.38 693.65,221.68 696.1,218.3C698.55,214.92 701.73,212.08 705.1,210.4C708.47,208.72 712.75,207.82 716.3,208.2Z" fill="url(#gred)" stroke="#3a0a0a" stroke-width="0.8"/>
<clipPath id="cred"><path d="M716.3,208.2C719.85,208.58 724.25,210.27 726.4,212.7C728.55,215.13 729.02,219.05 729.2,222.8C729.38,226.55 727.97,231.63 727.5,235.2C727.03,238.77 727.15,241.02 726.4,244.2C725.65,247.38 724.68,251.5 723,254.3C721.32,257.1 719.1,259.5 716.3,261C713.5,262.5 709.77,263.3 706.2,263.3C702.63,263.3 697.9,262.32 694.9,261C691.9,259.68 689.42,258.2 688.2,255.4C686.98,252.6 687.23,248.32 687.6,244.2C687.97,240.08 688.98,235.02 690.4,230.7C691.82,226.38 693.65,221.68 696.1,218.3C698.55,214.92 701.73,212.08 705.1,210.4C708.47,208.72 712.75,207.82 716.3,208.2Z"/></clipPath>
<g clip-path="url(#cred)"><g filter="url(#bl2)"><ellipse cx="718" cy="238" rx="11" ry="3.6" transform="rotate(-14 718 238)" fill="#350809" fill-opacity="0.85"/><ellipse cx="721" cy="251" rx="9" ry="12" fill="#4a0c0e" fill-opacity="0.5"/></g></g>
<rect x="145" y="7.9" width="1.6" height="4.6" fill="#a6a6a6" fill-opacity="1"/><rect x="145" y="33.2" width="1.6" height="4.6" fill="#a6a6a6" fill-opacity="1"/><rect x="145" y="58.5" width="1.6" height="4.6" fill="#a6a6a6" fill-opacity="1"/><rect x="145" y="83.8" width="1.6" height="4.6" fill="#a6a6a6" fill-opacity="1"/><rect x="145" y="109.1" width="1.6" height="4.6" fill="#a6a6a6" fill-opacity="1"/><rect x="145" y="134.4" width="1.6" height="4.6" fill="#a6a6a6" fill-opacity="1"/><rect x="145" y="159.7" width="1.6" height="4.6" fill="#a6a6a6" fill-opacity="1"/><rect x="145" y="185" width="1.6" height="4.6" fill="#a6a6a6" fill-opacity="1"/><rect x="145" y="210.3" width="1.6" height="4.6" fill="#a6a6a6" fill-opacity="1"/><rect x="145" y="235.6" width="1.6" height="4.6" fill="#a6a6a6" fill-opacity="1"/>
<rect x="435.7" y="7.9" width="1.6" height="4.6" fill="#5c9c60" fill-opacity="1"/><rect x="435.7" y="33.2" width="1.6" height="4.6" fill="#5c9c60" fill-opacity="1"/><rect x="435.7" y="58.5" width="1.6" height="4.6" fill="#5c9c60" fill-opacity="1"/><rect x="435.7" y="83.8" width="1.6" height="4.6" fill="#5c9c60" fill-opacity="1"/><rect x="435.7" y="109.1" width="1.6" height="4.6" fill="#5c9c60" fill-opacity="1"/><rect x="435.7" y="134.4" width="1.6" height="4.6" fill="#5c9c60" fill-opacity="1"/><rect x="435.7" y="159.7" width="1.6" height="4.6" fill="#5c9c60" fill-opacity="1"/><rect x="435.7" y="185" width="1.6" height="4.6" fill="#5c9c60" fill-opacity="1"/><rect x="435.7" y="210.3" width="1.6" height="4.6" fill="#5c9c60" fill-opacity="1"/><rect x="435.7" y="235.6" width="1.6" height="4.6" fill="#5c9c60" fill-opacity="1"/>
<rect x="144.7" y="281.5" width="1.6" height="4.8" fill="#bdb784" fill-opacity="1"/><rect x="144.7" y="306.85" width="1.6" height="4.8" fill="#bdb784" fill-opacity="1"/><rect x="144.7" y="332.2" width="1.6" height="4.8" fill="#bdb784" fill-opacity="1"/><rect x="144.7" y="357.55" width="1.6" height="4.8" fill="#bdb784" fill-opacity="1"/><rect x="144.7" y="382.9" width="1.6" height="4.8" fill="#bdb784" fill-opacity="1"/><rect x="144.7" y="408.25" width="1.6" height="4.8" fill="#bdb784" fill-opacity="1"/><rect x="144.7" y="433.6" width="1.6" height="4.8" fill="#bdb784" fill-opacity="1"/><rect x="144.7" y="458.95" width="1.6" height="4.8" fill="#bdb784" fill-opacity="1"/><rect x="144.7" y="484.3" width="1.6" height="4.8" fill="#bdb784" fill-opacity="1"/><rect x="144.7" y="509.65" width="1.6" height="4.8" fill="#bdb784" fill-opacity="1"/>
<rect x="22.3" y="264.65" width="6" height="1.5" fill="#454394" fill-opacity="1"/><rect x="47.7" y="264.65" width="6" height="1.5" fill="#454394" fill-opacity="1"/><rect x="73.1" y="264.65" width="6" height="1.5" fill="#454394" fill-opacity="1"/><rect x="98.5" y="264.65" width="6" height="1.5" fill="#454394" fill-opacity="1"/><rect x="123.9" y="264.65" width="6" height="1.5" fill="#454394" fill-opacity="1"/><rect x="149.3" y="264.65" width="6" height="1.5" fill="#454394" fill-opacity="1"/><rect x="174.7" y="264.65" width="6" height="1.5" fill="#454394" fill-opacity="1"/><rect x="200.1" y="264.65" width="6" height="1.5" fill="#454394" fill-opacity="1"/><rect x="225.5" y="264.65" width="6" height="1.5" fill="#454394" fill-opacity="1"/><rect x="250.9" y="264.65" width="6" height="1.5" fill="#454394" fill-opacity="1"/>
<rect x="313.4" y="397.25" width="5.6" height="1.5" fill="#b2b244" fill-opacity="1"/><rect x="338.6" y="397.25" width="5.6" height="1.5" fill="#b2b244" fill-opacity="1"/><rect x="363.8" y="397.25" width="5.6" height="1.5" fill="#b2b244" fill-opacity="1"/><rect x="389" y="397.25" width="5.6" height="1.5" fill="#b2b244" fill-opacity="1"/><rect x="414.2" y="397.25" width="5.6" height="1.5" fill="#b2b244" fill-opacity="1"/><rect x="438.6" y="397.25" width="5.6" height="1.5" fill="#b2b244" fill-opacity="1"/><rect x="464.3" y="397.25" width="5.6" height="1.5" fill="#b2b244" fill-opacity="1"/><rect x="490" y="397.25" width="5.6" height="1.5" fill="#b2b244" fill-opacity="1"/><rect x="515.7" y="397.25" width="5.6" height="1.5" fill="#b2b244" fill-opacity="1"/><rect x="541.4" y="397.25" width="5.6" height="1.5" fill="#b2b244" fill-opacity="1"/>
<line x1="374.91" y1="503.97" x2="377.69" y2="499.23" stroke="#9c9c9c" stroke-opacity="1" stroke-width="1.3"/><line x1="387.99" y1="481.7" x2="390.77" y2="476.96" stroke="#9c9c9c" stroke-opacity="1" stroke-width="1.3"/><line x1="401.07" y1="459.43" x2="403.85" y2="454.69" stroke="#9c9c9c" stroke-opacity="1" stroke-width="1.3"/><line x1="414.15" y1="437.16" x2="416.93" y2="432.42" stroke="#9c9c9c" stroke-opacity="1" stroke-width="1.3"/><line x1="427.23" y1="414.89" x2="430.01" y2="410.15" stroke="#9c9c9c" stroke-opacity="1" stroke-width="1.3"/><line x1="440.31" y1="392.62" x2="443.09" y2="387.88" stroke="#9c9c9c" stroke-opacity="1" stroke-width="1.3"/><line x1="453.39" y1="370.35" x2="456.17" y2="365.61" stroke="#9c9c9c" stroke-opacity="1" stroke-width="1.3"/><line x1="466.47" y1="348.08" x2="469.25" y2="343.34" stroke="#9c9c9c" stroke-opacity="1" stroke-width="1.3"/><line x1="479.55" y1="325.81" x2="482.33" y2="321.07" stroke="#9c9c9c" stroke-opacity="1" stroke-width="1.3"/><line x1="492.63" y1="303.54" x2="495.41" y2="298.8" stroke="#9c9c9c" stroke-opacity="1" stroke-width="1.3"/><line x1="505.71" y1="281.27" x2="508.49" y2="276.53" stroke="#9c9c9c" stroke-opacity="1" stroke-width="1.3"/>
<line x1="336.54" y1="277.39" x2="340.06" y2="281.61" stroke="#489052" stroke-opacity="1" stroke-width="1.3"/><line x1="352.64" y1="296.74" x2="356.16" y2="300.96" stroke="#489052" stroke-opacity="1" stroke-width="1.3"/><line x1="368.74" y1="316.09" x2="372.26" y2="320.31" stroke="#489052" stroke-opacity="1" stroke-width="1.3"/><line x1="384.84" y1="335.44" x2="388.36" y2="339.66" stroke="#489052" stroke-opacity="1" stroke-width="1.3"/><line x1="400.94" y1="354.79" x2="404.46" y2="359.01" stroke="#489052" stroke-opacity="1" stroke-width="1.3"/><line x1="417.04" y1="374.14" x2="420.56" y2="378.36" stroke="#489052" stroke-opacity="1" stroke-width="1.3"/><line x1="433.14" y1="393.49" x2="436.66" y2="397.71" stroke="#489052" stroke-opacity="1" stroke-width="1.3"/><line x1="449.24" y1="412.84" x2="452.76" y2="417.06" stroke="#489052" stroke-opacity="1" stroke-width="1.3"/><line x1="465.34" y1="432.19" x2="468.86" y2="436.41" stroke="#489052" stroke-opacity="1" stroke-width="1.3"/><line x1="481.44" y1="451.54" x2="484.96" y2="455.76" stroke="#489052" stroke-opacity="1" stroke-width="1.3"/><line x1="497.54" y1="470.89" x2="501.06" y2="475.11" stroke="#489052" stroke-opacity="1" stroke-width="1.3"/><line x1="513.64" y1="490.24" x2="517.16" y2="494.46" stroke="#489052" stroke-opacity="1" stroke-width="1.3"/><line x1="529.74" y1="509.59" x2="533.26" y2="513.81" stroke="#489052" stroke-opacity="1" stroke-width="1.3"/>
<path d="M241,252.7 H285 M241,250.5 V254.9 M285,250.5 V254.9" fill="none" stroke="#bdb566" stroke-width="1.2"/><text x="262.6" y="250.2" text-anchor="middle" class="us" font-size="10.6" fill="#bdb566">2 cm</text>
<path d="M514.6,527 H576 M514.6,524.8 V529.2 M576,524.8 V529.2" fill="none" stroke="#cfcfae" stroke-width="1.2"/><text x="545.3" y="524.6" text-anchor="middle" class="us" font-size="10.6" fill="#cfcfae">2 cm</text>
<path d="M274.6,258.3 H286.8 V246" fill="none" stroke="#b0aa58" stroke-width="1.5"/>
<path d="M274.6,263.8 H286.8 V275.5" fill="none" stroke="#4fa04f" stroke-width="1.5"/>
<path d="M294.8,246 V258.3 H307" fill="none" stroke="#d0d0d0" stroke-width="1.5"/>
<path d="M294.8,275.5 V263.8 H307" fill="none" stroke="#5a58b4" stroke-width="1.5"/>
<rect x="294.5" y="263.4" width="5.6" height="5.6" fill="#7f7fe0"/>
<path d="M565.8,258.3 H578 V246" fill="none" stroke="#d0d0d0" stroke-width="1.5"/>
<path d="M565.8,263.8 H578 V275.5" fill="none" stroke="#5a58b4" stroke-width="1.5"/>
<path d="M4.4,246 V258.3 H16" fill="none" stroke="#a8a250" stroke-width="1.5"/>
<path d="M4.4,275.5 V263.8 H16" fill="none" stroke="#4fa04f" stroke-width="1.5"/>
<rect x="4.2" y="264" width="5.6" height="5.6" fill="#5fd05f"/>
<path d="M275.3,532.5 H287.2 V520" fill="none" stroke="#4fa04f" stroke-width="1.5"/>
<path d="M295,520 V532.5 H306.8" fill="none" stroke="#5a58b4" stroke-width="1.5"/>
<path d="M565.5,532.5 H577.5 V520" fill="none" stroke="#5a58b4" stroke-width="1.5"/>
<path d="M4.6,520.5 V532.3 H16.2" fill="none" stroke="#4fa04f" stroke-width="1.5"/>
<rect x="585.8" y="0" width="11.3" height="98" fill="url(#gbar)"/>
<path d="M585.6,122.5 V125.8 H588.5 M598,122.5 V125.8 H595" fill="none" stroke="#d8d8d8" stroke-width="1.1"/>
<rect x="733.5" y="4" width="101.3" height="110.7" fill="#1e242e"/>
<text x="748" y="14.6" class="us" font-size="12.3" font-weight="bold" fill="#bcc2ca">EDV</text>
<text x="833.6" y="14.6" text-anchor="end" class="us" font-size="12.3" font-weight="bold" fill="#bcc2ca">44 ml</text>
<text x="748" y="29.9" class="us" font-size="12.3" font-weight="bold" fill="#bcc2ca">ESV</text>
<text x="833.6" y="29.9" text-anchor="end" class="us" font-size="12.3" font-weight="bold" fill="#bcc2ca">74 ml</text>
<text x="748" y="45.2" class="us" font-size="12.3" font-weight="bold" fill="#bcc2ca">EF</text>
<text x="833.6" y="45.2" text-anchor="end" class="us" font-size="12.3" font-weight="bold" fill="#bcc2ca">-70 %</text>
<text x="748" y="60.9" class="us" font-size="12.3" font-weight="bold" fill="#bcc2ca">HR</text>
<text x="833.6" y="60.9" text-anchor="end" class="us" font-size="12.3" font-weight="bold" fill="#bcc2ca">56 BPM</text>
<text x="748" y="77.2" class="us" font-size="12.3" font-weight="bold" fill="#bcc2ca">SV</text>
<text x="833.6" y="77.2" text-anchor="end" class="us" font-size="12.3" font-weight="bold" fill="#bcc2ca">-30 ml</text>
<text x="748" y="93.5" class="us" font-size="12.3" font-weight="bold" fill="#bcc2ca">CO</text>
<text x="833.6" y="93.5" text-anchor="end" class="us" font-size="12.3" font-weight="bold" fill="#bcc2ca">-1.7 l/min</text>
<text x="748" y="109.4" class="us" font-size="12.3" font-weight="bold" fill="#bcc2ca">Spl</text>
<text x="833.6" y="109.4" text-anchor="end" class="us" font-size="12.3" font-weight="bold" fill="#bcc2ca">0.34</text>
<text x="738.6" y="14.6" class="us" font-size="7.5" font-weight="bold" fill="#7fe07f">1</text>
<line x1="614.6" x2="816.4" y1="454.1" y2="454.1" stroke="#8a8a8a" stroke-width="0.9" stroke-dasharray="1 1"/>
<text x="610.5" y="457.7" text-anchor="end" class="us" font-size="10.4" fill="#d6d6b4">45</text>
<line x1="614.6" x2="816.4" y1="435.6" y2="435.6" stroke="#8a8a8a" stroke-width="0.9" stroke-dasharray="1 1"/>
<text x="610.5" y="439.2" text-anchor="end" class="us" font-size="10.4" fill="#d6d6b4">50</text>
<line x1="614.6" x2="816.4" y1="417.1" y2="417.1" stroke="#8a8a8a" stroke-width="0.9" stroke-dasharray="1 1"/>
<text x="610.5" y="420.7" text-anchor="end" class="us" font-size="10.4" fill="#d6d6b4">55</text>
<line x1="614.6" x2="816.4" y1="398.6" y2="398.6" stroke="#8a8a8a" stroke-width="0.9" stroke-dasharray="1 1"/>
<text x="610.5" y="402.2" text-anchor="end" class="us" font-size="10.4" fill="#d6d6b4">60</text>
<line x1="614.6" x2="816.4" y1="380.1" y2="380.1" stroke="#8a8a8a" stroke-width="0.9" stroke-dasharray="1 1"/>
<text x="610.5" y="383.7" text-anchor="end" class="us" font-size="10.4" fill="#d6d6b4">65</text>
<line x1="614.6" x2="816.4" y1="361.6" y2="361.6" stroke="#8a8a8a" stroke-width="0.9" stroke-dasharray="1 1"/>
<text x="610.5" y="365.2" text-anchor="end" class="us" font-size="10.4" fill="#d6d6b4">70</text>
<line x1="614.6" x2="816.4" y1="343.1" y2="343.1" stroke="#8a8a8a" stroke-width="0.9" stroke-dasharray="1 1"/>
<text x="610.5" y="346.7" text-anchor="end" class="us" font-size="10.4" fill="#d6d6b4">75</text>
<line x1="627.9" x2="627.9" y1="335" y2="469.5" stroke="#8a8a8a" stroke-width="0.9" stroke-dasharray="1 1"/>
<line x1="667.2" x2="667.2" y1="335" y2="469.5" stroke="#8a8a8a" stroke-width="0.9" stroke-dasharray="1 1"/>
<line x1="705.9" x2="705.9" y1="335" y2="469.5" stroke="#8a8a8a" stroke-width="0.9" stroke-dasharray="1 1"/>
<line x1="744.4" x2="744.4" y1="335" y2="469.5" stroke="#8a8a8a" stroke-width="0.9" stroke-dasharray="1 1"/>
<line x1="783.4" x2="783.4" y1="335" y2="469.5" stroke="#8a8a8a" stroke-width="0.9" stroke-dasharray="1 1"/>
<line x1="613.6" x2="816.4" y1="469.7" y2="469.7" stroke="#c2ba62" stroke-width="1.2"/>
<line x1="613.6" x2="613.6" y1="333" y2="469.7" stroke="#c9c25c" stroke-width="1.2" stroke-dasharray="2.2 1"/>
<line x1="642" x2="642" y1="333" y2="470.8" stroke="#8f2e28" stroke-width="2.3"/>
<line x1="685.5" x2="685.5" y1="333" y2="469.7" stroke="#2fb4c4" stroke-width="1.3" stroke-dasharray="2.4 1.6"/>
<path d="M613.6,458.91 L617.83,458.54 L622.05,457.8 L626.27,456.69 L630.5,450.4 L634.73,439.3 L638.95,430.79 L643.18,425.24 L647.4,421.17 L651.62,414.51 L655.85,404.15 L660.08,392.68 L664.3,383.8 L668.52,377.51 L672.75,369.74 L676.98,362.34 L681.2,354.2 L685.42,346.06 L689.65,348.28 L693.88,350.5 L698.1,352.72 L702.33,356.05 L706.55,358.64 L710.77,363.08 L715,371.59 L719.23,380.1 L723.45,387.5 L727.67,393.05 L731.9,395.64 L736.12,397.12 L740.35,398.23 L744.58,400.45 L748.8,401.56 L753.02,399.71 L757.25,397.49 L761.48,396.75 L765.7,396.75 L769.92,397.86 L774.15,398.97 L778.38,398.6 L782.6,397.86 L786.82,396.75 L791.05,397.86 L795.27,404.89 L799.5,421.17 L803.73,441.52 L807.95,454.47 L812.17,458.17 L816.4,459.28" fill="none" stroke="#d9d24a" stroke-width="0.9"/>
<g fill="#f4ec35"><circle cx="613.6" cy="458.91" r="1.7"/><circle cx="617.83" cy="458.54" r="1.7"/><circle cx="622.05" cy="457.8" r="1.7"/><circle cx="626.27" cy="456.69" r="1.7"/><circle cx="630.5" cy="450.4" r="1.7"/><circle cx="634.73" cy="439.3" r="1.7"/><circle cx="638.95" cy="430.79" r="1.7"/><circle cx="643.18" cy="425.24" r="1.7"/><circle cx="647.4" cy="421.17" r="1.7"/><circle cx="651.62" cy="414.51" r="1.7"/><circle cx="655.85" cy="404.15" r="1.7"/><circle cx="660.08" cy="392.68" r="1.7"/><circle cx="664.3" cy="383.8" r="1.7"/><circle cx="668.52" cy="377.51" r="1.7"/><circle cx="672.75" cy="369.74" r="1.7"/><circle cx="676.98" cy="362.34" r="1.7"/><circle cx="681.2" cy="354.2" r="1.7"/><circle cx="685.42" cy="346.06" r="1.7"/><circle cx="689.65" cy="348.28" r="1.7"/><circle cx="693.88" cy="350.5" r="1.7"/><circle cx="698.1" cy="352.72" r="1.7"/><circle cx="702.33" cy="356.05" r="1.7"/><circle cx="706.55" cy="358.64" r="1.7"/><circle cx="710.77" cy="363.08" r="1.7"/><circle cx="715" cy="371.59" r="1.7"/><circle cx="719.23" cy="380.1" r="1.7"/><circle cx="723.45" cy="387.5" r="1.7"/><circle cx="727.67" cy="393.05" r="1.7"/><circle cx="731.9" cy="395.64" r="1.7"/><circle cx="736.12" cy="397.12" r="1.7"/><circle cx="740.35" cy="398.23" r="1.7"/><circle cx="744.58" cy="400.45" r="1.7"/><circle cx="748.8" cy="401.56" r="1.7"/><circle cx="753.02" cy="399.71" r="1.7"/><circle cx="757.25" cy="397.49" r="1.7"/><circle cx="761.48" cy="396.75" r="1.7"/><circle cx="765.7" cy="396.75" r="1.7"/><circle cx="769.92" cy="397.86" r="1.7"/><circle cx="774.15" cy="398.97" r="1.7"/><circle cx="778.38" cy="398.6" r="1.7"/><circle cx="782.6" cy="397.86" r="1.7"/><circle cx="786.82" cy="396.75" r="1.7"/><circle cx="791.05" cy="397.86" r="1.7"/><circle cx="795.27" cy="404.89" r="1.7"/><circle cx="799.5" cy="421.17" r="1.7"/><circle cx="803.73" cy="441.52" r="1.7"/><circle cx="807.95" cy="454.47" r="1.7"/><circle cx="812.17" cy="458.17" r="1.7"/><circle cx="816.4" cy="459.28" r="1.7"/></g>
<text x="598.5" y="330.6" class="us" font-size="10.4" fill="#d6d6c4">ml</text>
<text x="613.3" y="330.6" class="us" font-size="10.4" fill="#e3da3c">ED</text>
<text x="685" y="330.6" class="us" font-size="10.4" fill="#2fc4d4">ES</text>
<line x1="33.5" x2="33.5" y1="476.4" y2="537.4" stroke="#d8d192" stroke-width="1.6"/>
<line x1="134" x2="134" y1="476.4" y2="537.4" stroke="#d8d192" stroke-width="1.6"/>
<path d="M4.41,512.43 L8.82,509.49 L12.49,508.76 L14.7,503.62 L16.9,502.15 L19.11,505.82 L22.05,513.9 L24.99,516.11 L27.92,513.17 L30.13,502.88 L32.04,496.27 L33.22,502.88 L34.1,523.46 L36.01,517.58 L38.21,510.23 L42.62,508.02 L48.5,508.02 L52.91,505.82 L58.79,503.17 L61.73,505.09 L64.67,513.17 L69.08,516.11 L73.49,513.17 L79.37,510.96 L88.18,510.23 L95.53,510.96 L102.88,511.7 L108.76,509.49 L113.17,508.02 L116.11,504.35 L117.58,503.62 L119.78,507.29 L121.99,514.64 L124.93,517.58 L127.87,511.7 L130.81,499.94 L132.72,497 L134.04,510.23 L135.21,522.72 L137.42,516.11 L138.89,509.49 L142.56,508.76 L145.5,509.94 L148.44,508.02 L152.85,506.55 L155.79,507.29 L158.73,505.09 L161.67,505.09 L163.87,508.76 L165.78,511.7" fill="none" stroke="#27c4c0" stroke-width="1.7" stroke-linejoin="round"/>
<rect x="31" y="509" width="2.6" height="2.6" fill="#f0e050"/><rect x="134.2" y="509" width="2.6" height="2.6" fill="#f0e050"/>
<rect x="47.8" y="506" width="2.6" height="4.2" fill="#f03030"/>
</g>
<g id="panelB">
<line x1="942.7" x2="1626.3" y1="489.3" y2="489.3" stroke="#cecece" stroke-width="1.9"/>
<line x1="942.7" x2="1626.3" y1="442.19" y2="442.19" stroke="#cecece" stroke-width="1.9"/>
<line x1="942.7" x2="1626.3" y1="395.08" y2="395.08" stroke="#cecece" stroke-width="1.9"/>
<line x1="942.7" x2="1626.3" y1="347.96" y2="347.96" stroke="#cecece" stroke-width="1.9"/>
<line x1="942.7" x2="1626.3" y1="300.85" y2="300.85" stroke="#cecece" stroke-width="1.9"/>
<line x1="942.7" x2="1626.3" y1="253.74" y2="253.74" stroke="#cecece" stroke-width="1.9"/>
<line x1="942.7" x2="1626.3" y1="206.63" y2="206.63" stroke="#cecece" stroke-width="1.9"/>
<line x1="942.7" x2="1626.3" y1="159.51" y2="159.51" stroke="#cecece" stroke-width="1.9"/>
<line x1="942.7" x2="1626.3" y1="112.4" y2="112.4" stroke="#cecece" stroke-width="1.9"/>
<text x="919" y="497.8" text-anchor="end" class="bt" fill="#5fa535">0</text>
<text x="919" y="450.69" text-anchor="end" class="bt" fill="#5fa535">10</text>
<text x="919" y="403.58" text-anchor="end" class="bt" fill="#5fa535">20</text>
<text x="919" y="356.46" text-anchor="end" class="bt" fill="#5fa535">30</text>
<text x="919" y="309.35" text-anchor="end" class="bt" fill="#5fa535">40</text>
<text x="919" y="262.24" text-anchor="end" class="bt" fill="#5fa535">50</text>
<text x="919" y="215.13" text-anchor="end" class="bt" fill="#5fa535">60</text>
<text x="919" y="168.01" text-anchor="end" class="bt" fill="#5fa535">70</text>
<text x="919" y="120.9" text-anchor="end" class="bt" fill="#5fa535">80</text>
<text x="1650" y="497.8" text-anchor="start" class="bt" fill="#2f5ea8">0</text>
<text x="1650" y="455.92" text-anchor="start" class="bt" fill="#2f5ea8">2</text>
<text x="1650" y="414.04" text-anchor="start" class="bt" fill="#2f5ea8">4</text>
<text x="1650" y="372.17" text-anchor="start" class="bt" fill="#2f5ea8">6</text>
<text x="1650" y="330.29" text-anchor="start" class="bt" fill="#2f5ea8">8</text>
<text x="1650" y="288.41" text-anchor="start" class="bt" fill="#2f5ea8">10</text>
<text x="1650" y="246.53" text-anchor="start" class="bt" fill="#2f5ea8">12</text>
<text x="1650" y="204.66" text-anchor="start" class="bt" fill="#2f5ea8">14</text>
<text x="1650" y="162.78" text-anchor="start" class="bt" fill="#2f5ea8">16</text>
<text x="1650" y="120.9" text-anchor="start" class="bt" fill="#2f5ea8">18</text>
<text transform="translate(875,301) rotate(-90)" text-anchor="middle" class="at" fill="#5fa535">Volume (ml)</text>
<text transform="translate(1716,301) rotate(-90)" text-anchor="middle" class="at" fill="#2f5ea8">Pressure (mm Hg)</text>
<path d="M949.9,282 L963.84,282 L977.78,282 L991.72,282 L1005.66,272.58 L1019.6,258.45 L1033.54,249.03 L1047.48,239.6 L1061.42,234.89 L1075.36,225.47 L1089.3,216.05 L1103.24,197.2 L1117.18,187.78 L1131.12,178.36 L1145.06,168.94 L1159,159.51 L1172.94,150.09 L1186.88,140.67 L1200.82,145.38 L1214.76,145.38 L1228.7,150.09 L1242.64,154.8 L1256.58,154.8 L1270.52,164.22 L1284.46,173.65 L1298.4,183.07 L1312.34,192.49 L1326.28,197.2 L1340.22,201.91 L1354.16,201.91 L1368.1,206.62 L1382.04,206.62 L1395.98,211.34 L1409.92,206.62 L1423.86,206.62 L1437.8,201.91 L1451.74,201.91 L1465.68,206.62 L1479.62,206.62 L1493.56,206.62 L1507.5,206.62 L1521.44,201.91 L1535.38,206.62 L1549.32,211.34 L1563.26,234.89 L1577.2,258.45 L1591.14,277.29 L1605.08,282 L1619.02,282" fill="none" stroke="#6aad45" stroke-width="4.4" stroke-linejoin="round" stroke-linecap="round"/>
<g fill="#6aad45"><circle cx="949.9" cy="282" r="6.3"/><circle cx="963.84" cy="282" r="6.3"/><circle cx="977.78" cy="282" r="6.3"/><circle cx="991.72" cy="282" r="6.3"/><circle cx="1005.66" cy="272.58" r="6.3"/><circle cx="1019.6" cy="258.45" r="6.3"/><circle cx="1033.54" cy="249.03" r="6.3"/><circle cx="1047.48" cy="239.6" r="6.3"/><circle cx="1061.42" cy="234.89" r="6.3"/><circle cx="1075.36" cy="225.47" r="6.3"/><circle cx="1089.3" cy="216.05" r="6.3"/><circle cx="1103.24" cy="197.2" r="6.3"/><circle cx="1117.18" cy="187.78" r="6.3"/><circle cx="1131.12" cy="178.36" r="6.3"/><circle cx="1145.06" cy="168.94" r="6.3"/><circle cx="1159" cy="159.51" r="6.3"/><circle cx="1172.94" cy="150.09" r="6.3"/><circle cx="1186.88" cy="140.67" r="6.3"/><circle cx="1200.82" cy="145.38" r="6.3"/><circle cx="1214.76" cy="145.38" r="6.3"/><circle cx="1228.7" cy="150.09" r="6.3"/><circle cx="1242.64" cy="154.8" r="6.3"/><circle cx="1256.58" cy="154.8" r="6.3"/><circle cx="1270.52" cy="164.22" r="6.3"/><circle cx="1284.46" cy="173.65" r="6.3"/><circle cx="1298.4" cy="183.07" r="6.3"/><circle cx="1312.34" cy="192.49" r="6.3"/><circle cx="1326.28" cy="197.2" r="6.3"/><circle cx="1340.22" cy="201.91" r="6.3"/><circle cx="1354.16" cy="201.91" r="6.3"/><circle cx="1368.1" cy="206.62" r="6.3"/><circle cx="1382.04" cy="206.62" r="6.3"/><circle cx="1395.98" cy="211.34" r="6.3"/><circle cx="1409.92" cy="206.62" r="6.3"/><circle cx="1423.86" cy="206.62" r="6.3"/><circle cx="1437.8" cy="201.91" r="6.3"/><circle cx="1451.74" cy="201.91" r="6.3"/><circle cx="1465.68" cy="206.62" r="6.3"/><circle cx="1479.62" cy="206.62" r="6.3"/><circle cx="1493.56" cy="206.62" r="6.3"/><circle cx="1507.5" cy="206.62" r="6.3"/><circle cx="1521.44" cy="201.91" r="6.3"/><circle cx="1535.38" cy="206.62" r="6.3"/><circle cx="1549.32" cy="211.34" r="6.3"/><circle cx="1563.26" cy="234.89" r="6.3"/><circle cx="1577.2" cy="258.45" r="6.3"/><circle cx="1591.14" cy="277.29" r="6.3"/><circle cx="1605.08" cy="282" r="6.3"/><circle cx="1619.02" cy="282" r="6.3"/></g>
<path d="M949.9,287.87 L963.84,311.95 L977.78,325.14 L991.72,328.07 L1005.66,341.89 L1019.6,311.95 L1033.54,305.25 L1047.48,298.34 L1061.42,287.87 L1075.36,285.36 L1089.3,268.39 L1103.24,248.29 L1117.18,228.4 L1131.12,204.32 L1145.06,187.99 L1159,174.17 L1172.94,164.33 L1186.88,164.75 L1200.82,171.45 L1214.76,184.01 L1228.7,208.3 L1242.64,240.96 L1256.58,275.1 L1270.52,302.11 L1284.46,321.79 L1298.4,328.28 L1312.34,325.35 L1326.28,318.23 L1340.22,311.53 L1354.16,305.25 L1368.1,301.48 L1382.04,298.97 L1395.98,298.34 L1409.92,294.78 L1423.86,291.64 L1437.8,287.87 L1451.74,281.59 L1465.68,268.39 L1479.62,252.06 L1493.56,231.33 L1507.5,214.79 L1521.44,204.95 L1535.38,198.25 L1549.32,191.55 L1563.26,198.04 L1577.2,211.65 L1591.14,218.35 L1605.08,240.96 L1619.02,261.48" fill="none" stroke="#4472c4" stroke-width="4.4" stroke-linejoin="round" stroke-linecap="round"/>
<g fill="#4472c4"><circle cx="949.9" cy="287.87" r="6.3"/><circle cx="963.84" cy="311.95" r="6.3"/><circle cx="977.78" cy="325.14" r="6.3"/><circle cx="991.72" cy="328.07" r="6.3"/><circle cx="1005.66" cy="341.89" r="6.3"/><circle cx="1019.6" cy="311.95" r="6.3"/><circle cx="1033.54" cy="305.25" r="6.3"/><circle cx="1047.48" cy="298.34" r="6.3"/><circle cx="1061.42" cy="287.87" r="6.3"/><circle cx="1075.36" cy="285.36" r="6.3"/><circle cx="1089.3" cy="268.39" r="6.3"/><circle cx="1103.24" cy="248.29" r="6.3"/><circle cx="1117.18" cy="228.4" r="6.3"/><circle cx="1131.12" cy="204.32" r="6.3"/><circle cx="1145.06" cy="187.99" r="6.3"/><circle cx="1159" cy="174.17" r="6.3"/><circle cx="1172.94" cy="164.33" r="6.3"/><circle cx="1186.88" cy="164.75" r="6.3"/><circle cx="1200.82" cy="171.45" r="6.3"/><circle cx="1214.76" cy="184.01" r="6.3"/><circle cx="1228.7" cy="208.3" r="6.3"/><circle cx="1242.64" cy="240.96" r="6.3"/><circle cx="1256.58" cy="275.1" r="6.3"/><circle cx="1270.52" cy="302.11" r="6.3"/><circle cx="1284.46" cy="321.79" r="6.3"/><circle cx="1298.4" cy="328.28" r="6.3"/><circle cx="1312.34" cy="325.35" r="6.3"/><circle cx="1326.28" cy="318.23" r="6.3"/><circle cx="1340.22" cy="311.53" r="6.3"/><circle cx="1354.16" cy="305.25" r="6.3"/><circle cx="1368.1" cy="301.48" r="6.3"/><circle cx="1382.04" cy="298.97" r="6.3"/><circle cx="1395.98" cy="298.34" r="6.3"/><circle cx="1409.92" cy="294.78" r="6.3"/><circle cx="1423.86" cy="291.64" r="6.3"/><circle cx="1437.8" cy="287.87" r="6.3"/><circle cx="1451.74" cy="281.59" r="6.3"/><circle cx="1465.68" cy="268.39" r="6.3"/><circle cx="1479.62" cy="252.06" r="6.3"/><circle cx="1493.56" cy="231.33" r="6.3"/><circle cx="1507.5" cy="214.79" r="6.3"/><circle cx="1521.44" cy="204.95" r="6.3"/><circle cx="1535.38" cy="198.25" r="6.3"/><circle cx="1549.32" cy="191.55" r="6.3"/><circle cx="1563.26" cy="198.04" r="6.3"/><circle cx="1577.2" cy="211.65" r="6.3"/><circle cx="1591.14" cy="218.35" r="6.3"/><circle cx="1605.08" cy="240.96" r="6.3"/><circle cx="1619.02" cy="261.48" r="6.3"/></g>
<path d="M950.45,374.15 L964.13,458.83 L977.54,483.02 L991.48,461.45 L1005.41,455.67 L1019.61,455.67 L1033.81,454.09 L1047.75,451.72 L1062.22,446.99 L1075.89,443.05 L1090.09,437 L1104.29,427.79 L1118.76,418.59 L1132.43,412.28 L1146.9,407.02 L1161.1,406.23 L1174.77,417.54 L1189.23,439.63 L1202.38,451.72 L1216.58,455.67 L1230.52,458.3 L1244.46,459.61 L1258.66,456.98 L1272.86,454.88 L1287.06,454.09 L1301.53,454.09 L1315.2,453.04 L1329.14,452.25 L1343.61,453.57 L1357.54,454.09 L1371.74,454.09 L1385.68,455.67 L1399.88,454.35 L1413.82,456.2 L1427.76,455.67 L1441.43,454.88 L1455.11,456.72 L1469.05,454.88 L1483.51,450.41 L1497.45,438.58 L1511.65,427.27 L1525.85,425.43 L1540.05,445.15 L1553.73,460.93 L1568.19,467.24 L1582.13,467.24 L1596.33,465.4 L1610.53,445.15 L1624.73,376.51" fill="none" stroke="#7030a0" stroke-width="4.4" stroke-linejoin="round" stroke-linecap="round"/>
<g fill="#7030a0"><circle cx="950.45" cy="374.15" r="6.3"/><circle cx="964.13" cy="458.83" r="6.3"/><circle cx="977.54" cy="483.02" r="6.3"/><circle cx="991.48" cy="461.45" r="6.3"/><circle cx="1005.41" cy="455.67" r="6.3"/><circle cx="1019.61" cy="455.67" r="6.3"/><circle cx="1033.81" cy="454.09" r="6.3"/><circle cx="1047.75" cy="451.72" r="6.3"/><circle cx="1062.22" cy="446.99" r="6.3"/><circle cx="1075.89" cy="443.05" r="6.3"/><circle cx="1090.09" cy="437" r="6.3"/><circle cx="1104.29" cy="427.79" r="6.3"/><circle cx="1118.76" cy="418.59" r="6.3"/><circle cx="1132.43" cy="412.28" r="6.3"/><circle cx="1146.9" cy="407.02" r="6.3"/><circle cx="1161.1" cy="406.23" r="6.3"/><circle cx="1174.77" cy="417.54" r="6.3"/><circle cx="1189.23" cy="439.63" r="6.3"/><circle cx="1202.38" cy="451.72" r="6.3"/><circle cx="1216.58" cy="455.67" r="6.3"/><circle cx="1230.52" cy="458.3" r="6.3"/><circle cx="1244.46" cy="459.61" r="6.3"/><circle cx="1258.66" cy="456.98" r="6.3"/><circle cx="1272.86" cy="454.88" r="6.3"/><circle cx="1287.06" cy="454.09" r="6.3"/><circle cx="1301.53" cy="454.09" r="6.3"/><circle cx="1315.2" cy="453.04" r="6.3"/><circle cx="1329.14" cy="452.25" r="6.3"/><circle cx="1343.61" cy="453.57" r="6.3"/><circle cx="1357.54" cy="454.09" r="6.3"/><circle cx="1371.74" cy="454.09" r="6.3"/><circle cx="1385.68" cy="455.67" r="6.3"/><circle cx="1399.88" cy="454.35" r="6.3"/><circle cx="1413.82" cy="456.2" r="6.3"/><circle cx="1427.76" cy="455.67" r="6.3"/><circle cx="1441.43" cy="454.88" r="6.3"/><circle cx="1455.11" cy="456.72" r="6.3"/><circle cx="1469.05" cy="454.88" r="6.3"/><circle cx="1483.51" cy="450.41" r="6.3"/><circle cx="1497.45" cy="438.58" r="6.3"/><circle cx="1511.65" cy="427.27" r="6.3"/><circle cx="1525.85" cy="425.43" r="6.3"/><circle cx="1540.05" cy="445.15" r="6.3"/><circle cx="1553.73" cy="460.93" r="6.3"/><circle cx="1568.19" cy="467.24" r="6.3"/><circle cx="1582.13" cy="467.24" r="6.3"/><circle cx="1596.33" cy="465.4" r="6.3"/><circle cx="1610.53" cy="445.15" r="6.3"/><circle cx="1624.73" cy="376.51" r="6.3"/></g>
<line x1="1154" x2="1199" y1="111.8" y2="111.8" stroke="#6aad45" stroke-width="5" stroke-linecap="round"/>
<circle cx="1176.5" cy="111.8" r="5.8" fill="#6aad45"/>
<text x="1203" y="119.6" class="lg">Volume</text>
<line x1="1314.5" x2="1360.5" y1="111.8" y2="111.8" stroke="#4472c4" stroke-width="5" stroke-linecap="round"/>
<circle cx="1337.5" cy="111.8" r="5.8" fill="#4472c4"/>
<text x="1363.3" y="119.6" class="lg">Pressure</text>
<line x1="1371.5" x2="1417" y1="417.3" y2="417.3" stroke="#7030a0" stroke-width="5" stroke-linecap="round"/>
<circle cx="1394.25" cy="417.3" r="5.8" fill="#7030a0"/>
<text x="1421" y="425.1" class="lg">Ecg</text>
</g>
<g id="panelD">
<rect x="938.1" y="562.4" width="753.9" height="437.8" fill="#fff" stroke="#d9d9d9" stroke-width="1.4"/>
<line x1="998.6" x2="1655.8" y1="904.81" y2="904.81" stroke="#c9c9c9" stroke-width="1.6"/>
<line x1="998.6" x2="1655.8" y1="865.12" y2="865.12" stroke="#c9c9c9" stroke-width="1.6"/>
<line x1="998.6" x2="1655.8" y1="825.43" y2="825.43" stroke="#c9c9c9" stroke-width="1.6"/>
<line x1="998.6" x2="1655.8" y1="785.74" y2="785.74" stroke="#c9c9c9" stroke-width="1.6"/>
<line x1="998.6" x2="1655.8" y1="746.06" y2="746.06" stroke="#c9c9c9" stroke-width="1.6"/>
<line x1="998.6" x2="1655.8" y1="706.37" y2="706.37" stroke="#c9c9c9" stroke-width="1.6"/>
<line x1="998.6" x2="1655.8" y1="666.68" y2="666.68" stroke="#c9c9c9" stroke-width="1.6"/>
<line x1="998.6" x2="1655.8" y1="626.99" y2="626.99" stroke="#c9c9c9" stroke-width="1.6"/>
<line x1="998.6" x2="1655.8" y1="587.3" y2="587.3" stroke="#c9c9c9" stroke-width="1.6"/>
<line x1="1162.9" x2="1162.9" y1="944.5" y2="587.3" stroke="#c9c9c9" stroke-width="1.6"/>
<line x1="1327.2" x2="1327.2" y1="944.5" y2="587.3" stroke="#c9c9c9" stroke-width="1.6"/>
<line x1="1491.5" x2="1491.5" y1="944.5" y2="587.3" stroke="#c9c9c9" stroke-width="1.6"/>
<line x1="1655.8" x2="1655.8" y1="944.5" y2="587.3" stroke="#c9c9c9" stroke-width="1.6"/>
<path d="M998.6,587.3 V944.5 H1655.8" fill="none" stroke="#b0b0b0" stroke-width="1.7"/>
<text transform="translate(976.7,953) scale(1,1.18)" text-anchor="end" class="dt" font-size="23.6" letter-spacing="0.7">0</text>
<text transform="translate(976.7,913.31) scale(1,1.18)" text-anchor="end" class="dt" font-size="23.6" letter-spacing="0.7">2</text>
<text transform="translate(976.7,873.62) scale(1,1.18)" text-anchor="end" class="dt" font-size="23.6" letter-spacing="0.7">4</text>
<text transform="translate(976.7,833.93) scale(1,1.18)" text-anchor="end" class="dt" font-size="23.6" letter-spacing="0.7">6</text>
<text transform="translate(976.7,794.24) scale(1,1.18)" text-anchor="end" class="dt" font-size="23.6" letter-spacing="0.7">8</text>
<text transform="translate(976.7,754.56) scale(1,1.18)" text-anchor="end" class="dt" font-size="23.6" letter-spacing="0.7">10</text>
<text transform="translate(976.7,714.87) scale(1,1.18)" text-anchor="end" class="dt" font-size="23.6" letter-spacing="0.7">12</text>
<text transform="translate(976.7,675.18) scale(1,1.18)" text-anchor="end" class="dt" font-size="23.6" letter-spacing="0.7">14</text>
<text transform="translate(976.7,635.49) scale(1,1.18)" text-anchor="end" class="dt" font-size="23.6" letter-spacing="0.7">16</text>
<text transform="translate(976.7,595.8) scale(1,1.18)" text-anchor="end" class="dt" font-size="23.6" letter-spacing="0.7">18</text>
<text transform="translate(998,982.2) scale(1,1.08)" text-anchor="middle" class="dt" font-size="25.2">0</text>
<text transform="translate(1162.3,982.2) scale(1,1.08)" text-anchor="middle" class="dt" font-size="25.2">20</text>
<text transform="translate(1326.6,982.2) scale(1,1.08)" text-anchor="middle" class="dt" font-size="25.2">40</text>
<text transform="translate(1490.9,982.2) scale(1,1.08)" text-anchor="middle" class="dt" font-size="25.2">60</text>
<text transform="translate(1655.2,982.2) scale(1,1.08)" text-anchor="middle" class="dt" font-size="25.2">80</text>
<text transform="translate(926,806.5) rotate(-90)" text-anchor="middle" class="atk">Pressure (mm Hg)</text>
<text x="1346.5" y="1038.5" text-anchor="middle" class="atk">Volume (ml)</text>
<path d="M1376.49,796.29 L1380.32,794.34 L1384.16,792.37 L1387.99,790.36 L1391.82,788.34 L1395.66,786.28 L1399.49,784.2 L1403.33,782.09 L1407.16,779.96 L1410.99,777.79 L1414.83,775.6 L1418.66,773.38 L1422.49,771.13 L1426.33,768.85 L1430.16,766.54 L1433.99,764.2 L1437.83,761.83 L1441.66,759.42 L1445.5,756.99 L1449.33,754.52 L1453.16,752.03 L1457,749.49 L1460.83,746.93 L1464.66,744.33 L1468.5,741.7 L1472.33,739.03 L1476.17,736.33 L1480,733.59 L1483.83,730.82 L1487.67,728.01 L1491.5,725.16 L1495.33,722.27 L1499.17,719.35 L1503,716.39 L1506.83,713.39 L1510.67,710.35 L1514.5,707.27 L1518.34,704.15 L1522.17,700.99 L1526,697.79 L1529.84,694.54 L1533.67,691.25 L1537.5,687.92 L1541.34,684.55 L1545.17,681.13 L1549.01,677.67 L1552.84,674.16 L1556.67,670.6 L1560.51,667 L1564.34,663.35 L1568.17,659.65 L1572.01,655.9 L1575.84,652.11 L1579.67,648.26 L1583.51,644.37 L1587.34,640.42 L1591.18,636.42 L1595.01,632.37 L1598.84,628.26 L1602.68,624.1 L1606.51,619.89" fill="none" stroke="#6e6e6e" stroke-width="4" stroke-linecap="round" stroke-dasharray="0.01 7.87"/>
<g fill="#4f8fd0" fill-opacity="0.92"><circle cx="1376.49" cy="804.8" r="5.8"/><circle cx="1401.13" cy="776.42" r="5.8"/><circle cx="1417.57" cy="770.07" r="5.8"/><circle cx="1433.99" cy="763.52" r="5.8"/><circle cx="1442.21" cy="753.6" r="5.8"/><circle cx="1458.64" cy="751.22" r="5.8"/><circle cx="1475.07" cy="735.14" r="5.8"/><circle cx="1507.93" cy="716.09" r="5.8"/><circle cx="1524.36" cy="697.24" r="5.8"/><circle cx="1540.79" cy="674.42" r="5.8"/><circle cx="1557.22" cy="658.94" r="5.8"/><circle cx="1573.65" cy="645.84" r="5.8"/><circle cx="1590.08" cy="636.51" r="5.8"/><circle cx="1606.51" cy="636.91" r="5.8"/></g>
<text x="1314.5" y="656" class="eq">y = 2,06e<tspan dy="-8.6" font-size="19.2">0,028x</tspan></text>
<text x="1334" y="690.5" class="eq">R² = 0,984</text>
</g>
<text transform="translate(19.4,45.7) scale(1,1.07)" class="pl" fill="#fff">A</text>
<text transform="translate(855.2,32) scale(1,1.07)" class="pl" fill="#000">B</text>
<text transform="translate(9.1,590.3) scale(1,1.07)" class="pl" fill="#000">C</text>
<text transform="translate(854.3,589.9) scale(1,1.07)" class="pl" fill="#000">D</text>
</svg>
</body>
</html>
